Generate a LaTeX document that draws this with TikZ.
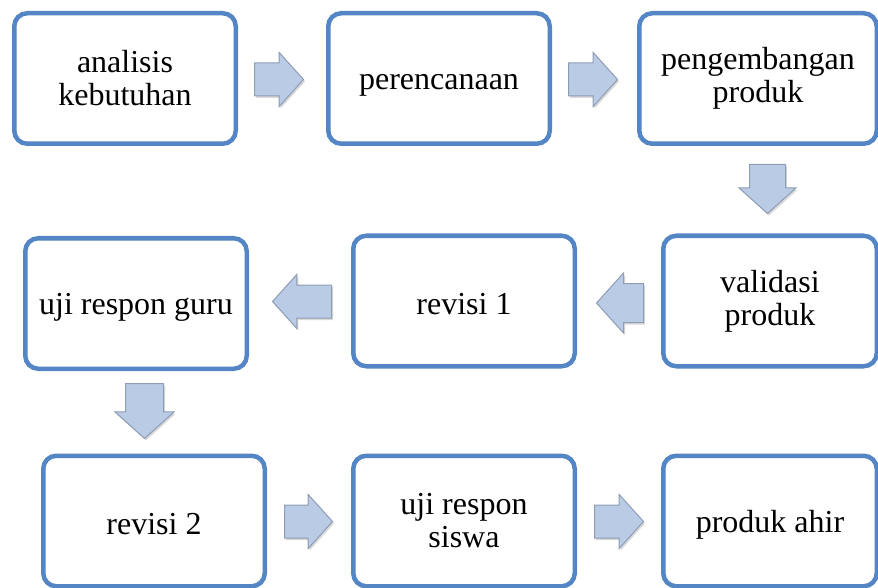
\documentclass[tikz,border=0pt]{standalone}
\usepackage{fontspec}
\setmainfont{Liberation Serif}
\usetikzlibrary{shapes.arrows,shadows}

\definecolor{boxline}{RGB}{84,133,196}
\definecolor{arrowfill}{RGB}{186,204,229}
\definecolor{arrowline}{RGB}{142,156,180}

\newcommand{\linestrut}{\rule[-2pt]{0pt}{31pt}}

\tikzset{
  stage/.style={draw=boxline, line width=4.5pt, rounded corners=13pt, fill=white,
    minimum width=221.5pt, minimum height=130.5pt, align=center, inner sep=0pt,
    font=\fontsize{32}{33}\selectfont,
    execute at begin node=\linestrut, execute at end node=\linestrut},
  blockarrow/.style={single arrow, draw=arrowline, line width=1pt, fill=arrowfill,
    minimum height=49pt, inner xsep=0pt, inner ysep=16pt, single arrow head extend=10.5pt,
    single arrow tip angle=96, anchor=tail,
    drop shadow={opacity=0.3, shadow xshift=1.5pt, shadow yshift=-2pt}},
  downarrow/.style={blockarrow, shape border rotate=270, inner ysep=0pt, inner xsep=#1},
}

\begin{document}
\begin{tikzpicture}[x=1pt,y=-1pt]
\useasboundingbox (0,0) rectangle (878,588);
\clip (0,0) rectangle (878,588);
% stages
\node[stage] (analisis) at (125,78.5) {analisis\\kebutuhan};
\node[stage] (perencanaan) at (439,78.5) {perencanaan};
\node[stage, minimum width=237.5pt] (pengembangan) at (758,78.5) {pengembangan\\produk};
\node[stage] (ujiguru) at (136,303.5) {uji respon guru};
\node[stage] (revisisatu) at (464,301) {revisi 1};
\node[stage, minimum width=213.5pt] (validasi) at (770,301) {validasi\\produk};
\node[stage] (revisidua) at (154,521) {revisi 2};
\node[stage] (ujisiswa) at (464,521) {uji respon\\siswa};
\node[stage, minimum width=213.5pt] (produkahir) at (770,521) {produk ahir};
% block arrows (placed by their tails)
\node[blockarrow] (panah1) at (254,79.5) {};
\node[blockarrow] (panah2) at (568,79.5) {};
\node[downarrow=17.5pt] (panah3) at (767.5,164) {};
\node[blockarrow, shape border rotate=180, minimum height=47pt, inner ysep=19pt] (panah4) at (644,303) {};
\node[blockarrow, shape border rotate=180, minimum height=59pt] (panah5) at (332,301.5) {};
\node[downarrow=18.5pt, minimum height=55pt] (panah6) at (144.5,383) {};
\node[blockarrow, minimum height=48pt] (panah7) at (284,521.5) {};
\node[blockarrow] (panah8) at (594,521.5) {};
\end{tikzpicture}
\end{document}
